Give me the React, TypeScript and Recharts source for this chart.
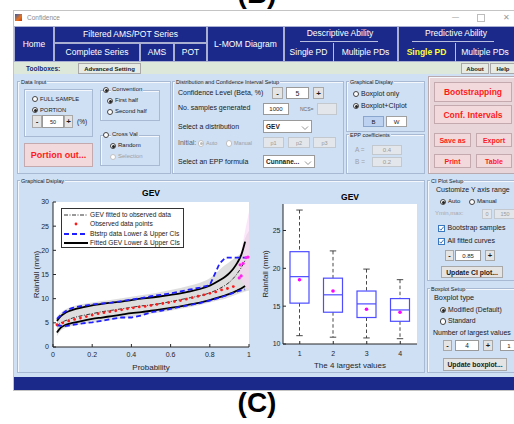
import React from 'react';
import { ComposedChart, Line, Area, Scatter, Bar, XAxis, YAxis, CartesianGrid, Label } from 'recharts';

const FONT = '"Liberation Sans", Arial, Helvetica, sans-serif';
const NAVY = '#1b2a8a';
const BG = '#cfdff4';
const INK = '#1a1a1a';
const AX = '#262626';

// ---- GEV quantile plot (left) ----
const prob = [0.02, 0.04, 0.06, 0.08, 0.1, 0.15, 0.2, 0.25, 0.3, 0.35, 0.4, 0.45, 0.5, 0.55, 0.6, 0.65, 0.7, 0.75, 0.8, 0.85, 0.88, 0.9, 0.92, 0.94, 0.96, 0.98, 1.0];
const gevFit = [4.3, 5.0, 5.4, 5.7, 6.0, 6.5, 6.9, 7.3, 7.6, 7.9, 8.2, 8.5, 8.7, 9.0, 9.4, 9.8, 10.2, 10.6, 11.2, 12.1, 12.8, 13.4, 14.2, 15.2, 16.4, 17.9, null];
const ciUpper = [5.4, 6.4, 7.0, 7.4, 7.7, 8.2, 8.6, 8.9, 9.2, 9.4, 9.7, 10.0, 10.2, 10.5, 10.8, 11.1, 11.5, 12.0, 12.7, 13.8, 14.6, 15.3, 16.2, 17.4, 19.0, 21.8, null];
const ciLower = [3.0, 4.0, 4.5, 4.8, 5.0, 5.4, 5.8, 6.1, 6.4, 6.7, 7.0, 7.2, 7.5, 7.8, 8.1, 8.4, 8.8, 9.2, 9.7, 10.3, 10.7, 11.0, 11.3, 11.7, 12.1, 12.6, null];
const bsUpper = [5.8, 6.6, 7.3, 7.8, 8.1, 8.5, 8.8, 9.0, 9.2, 9.5, 9.8, 10.1, 10.5, 10.8, 11.1, 11.5, 11.9, 12.3, 12.8, 17.3, 18.5, 18.5, 18.5, 18.5, 18.5, 18.5, null];
const bsLower = [4.5, 4.4, 4.3, 4.4, 4.6, 4.9, 5.1, 5.4, 5.8, 6.1, 6.1, 6.5, 7.2, 7.5, 7.9, 8.3, 8.7, 9.1, 9.6, 10.2, 10.6, 10.9, 11.2, 11.5, 11.7, 11.9, null];
const bandLow = [2.2, 3.4, 3.9, 4.2, 4.4, 4.7, 5.0, 5.3, 5.6, 5.9, 6.2, 6.5, 6.9, 7.2, 7.5, 7.9, 8.3, 8.7, 9.2, 9.7, 10.0, 10.3, 10.6, 10.9, 11.2, 11.5, 11.7];
const bandHigh = [6.3, 7.1, 7.7, 8.1, 8.4, 8.9, 9.2, 9.5, 9.8, 10.1, 10.4, 10.7, 11.0, 11.4, 11.8, 12.2, 12.7, 13.3, 14.2, 16.0, 17.0, 17.6, 18.2, 18.8, 19.6, 22.5, 24.0];
const pinkProb = [0.94, 0.96, 0.98, 1.0];
const pinkLow = [17.0, 14.0, 12.5, 12.0];
const pinkHigh = [17.5, 20.0, 24.0, 28.0];
const obsProb = [0.02, 0.05, 0.08, 0.11, 0.14, 0.17, 0.2, 0.23, 0.26, 0.29, 0.32, 0.35, 0.38, 0.41, 0.44, 0.47, 0.5, 0.53, 0.56, 0.59, 0.62, 0.65, 0.68, 0.71, 0.74, 0.77, 0.8, 0.83, 0.86, 0.89, 0.92];
const obsRain = [4.6, 5.0, 5.4, 5.7, 6.0, 6.3, 6.6, 6.9, 7.1, 7.3, 7.5, 7.7, 7.9, 8.1, 8.3, 8.4, 8.6, 8.8, 9.0, 9.2, 9.4, 9.6, 9.9, 10.2, 10.5, 10.8, 11.1, 11.4, 11.8, 12.1, 12.5];
const topProb = [0.95, 0.96, 0.955, 0.97, 0.985, 0.995];
const topRain = [14.3, 14.7, 17.0, 17.3, 18.5, 18.6];
const probTicks = [0, 0.2, 0.4, 0.6, 0.8, 1];
const rainTicks = [0, 5, 10, 15, 20, 25, 30];

// ---- Boxplot (right) ----
const boxLabels = ['1', '2', '3', '4'];
const whiskerLow = [11.1, 10.9, 10.8, 10.7];
const q1 = [15.4, 14.2, 13.5, 13.0];
const median = [18.9, 16.5, 15.3, 14.5];
const q3 = [22.2, 18.7, 17.0, 16.0];
const whiskerHigh = [27.7, 22.3, 19.9, 18.5];
const means = [18.5, 17.0, 14.6, 14.2];
const boxTicks = [10, 15, 20, 25];

const gevRows = prob.map((x, i) => ({
  x,
  fit: gevFit[i],
  ciHi: ciUpper[i],
  ciLo: ciLower[i],
  bsHi: bsUpper[i],
  bsLo: bsLower[i],
  band: [bandLow[i], bandHigh[i]],
}));
const pinkRows = pinkProb.map((x, i) => ({ x, pink: [pinkLow[i], pinkHigh[i]] }));
const obsPts = obsProb.map((x, i) => ({ x, y: obsRain[i] }));
const topPts = topProb.map((x, i) => ({ x, y: topRain[i] }));
const boxRows = boxLabels.map((k, i) => ({
  k,
  range: [whiskerLow[i], whiskerHigh[i]],
  q1: q1[i],
  med: median[i],
  q3: q3[i],
  mean: means[i],
}));

const dot = (fill: string, r: number) => (p: any) => <circle cx={p.cx} cy={p.cy} r={r} fill={fill} />;

function BoxShape(props: any) {
  const { x, y, width, height, payload } = props;
  const top = Math.min(y, y + height);
  const bot = Math.max(y, y + height);
  const [lo, hi] = payload.range;
  const py = (v: number) => bot - ((v - lo) / (hi - lo)) * (bot - top);
  const cx = x + width / 2;
  const cap = width * 0.17;
  return (
    <g>
      <line x1={cx} x2={cx} y1={py(hi)} y2={py(payload.q3)} stroke="#333" strokeWidth={0.9} strokeDasharray="3.5 2.5" />
      <line x1={cx} x2={cx} y1={py(payload.q1)} y2={py(lo)} stroke="#333" strokeWidth={0.9} strokeDasharray="3.5 2.5" />
      <line x1={cx - cap} x2={cx + cap} y1={py(hi)} y2={py(hi)} stroke="#333" strokeWidth={0.9} />
      <line x1={cx - cap} x2={cx + cap} y1={py(lo)} y2={py(lo)} stroke="#333" strokeWidth={0.9} />
      <rect x={x} y={py(payload.q3)} width={width} height={py(payload.q1) - py(payload.q3)} fill="none" stroke="#4d4dff" strokeWidth={1.2} />
      <line x1={x} x2={x + width} y1={py(payload.med)} y2={py(payload.med)} stroke="#4d4dff" strokeWidth={1.2} />
      <circle cx={cx} cy={py(payload.mean)} r={1.8} fill="#ff00ff" />
    </g>
  );
}

// ---- small GUI helpers ----
function Txt({ x, y, size = 7, color = INK, bold = false, align = 'left', w = 200, bg, children }: any) {
  const left = align === 'center' ? x - w / 2 : x;
  return (
    <div
      style={{
        position: 'absolute', left, top: y - size * 0.6, width: align === 'center' ? w : undefined,
        height: size * 1.2, lineHeight: `${size * 1.2}px`, fontSize: size, fontWeight: bold ? 700 : 400,
        color, whiteSpace: 'nowrap', textAlign: align, fontFamily: FONT, background: bg,
        padding: bg ? '0 1px' : undefined,
      }}
    >
      {children}
    </div>
  );
}

function Box({ x, y, w, h, bg, border = '#a7b9d3', style }: any) {
  return (
    <div style={{ position: 'absolute', left: x, top: y, width: w, height: h, boxSizing: 'border-box', border: `1px solid ${border}`, boxShadow: 'inset 1px 1px 0 #f4f8fd', background: bg, ...style }} />
  );
}

function Btn({ x, y, w, h, label, size = 7, bold = false, color = INK, bg = '#e4e4e4', border = '#a8a8a8' }: any) {
  return (
    <div
      style={{
        position: 'absolute', left: x, top: y, width: w, height: h, boxSizing: 'border-box',
        border: `1px solid ${border}`, background: bg, color, fontSize: size, fontWeight: bold ? 700 : 400,
        fontFamily: FONT, display: 'flex', alignItems: 'center', justifyContent: 'center', whiteSpace: 'nowrap',
      }}
    >
      {label}
    </div>
  );
}

function Field({ x, y, w, h, value, size = 6, disabled = false, bold = false, align = 'center', arrow = false }: any) {
  return (
    <div
      style={{
        position: 'absolute', left: x, top: y, width: w, height: h, boxSizing: 'border-box',
        border: `1px solid ${disabled ? '#c3c8cf' : '#9a9a9a'}`, background: disabled ? '#e3e6ea' : '#fff',
        color: disabled ? '#9a9a9a' : INK, fontSize: size, fontWeight: bold ? 700 : 400, fontFamily: FONT,
        display: 'flex', alignItems: 'center', justifyContent: align === 'center' ? 'center' : 'flex-start',
        paddingLeft: align === 'center' ? 0 : 2, whiteSpace: 'nowrap',
      }}
    >
      {value}
      {arrow && (
        <svg width={8} height={6} style={{ position: 'absolute', right: 2, top: h / 2 - 3 }}>
          <path d="M1 1.5 L4 4.5 L7 1.5" stroke="#888" fill="none" strokeWidth={0.9} />
        </svg>
      )}
    </div>
  );
}

function Radio({ cx, cy, checked = false, disabled = false, label, size = 6.5, bg }: any) {
  return (
    <>
      <div
        style={{
          position: 'absolute', left: cx - 3.2, top: cy - 3.2, width: 6.4, height: 6.4, boxSizing: 'border-box',
          borderRadius: '50%', border: `1px solid ${disabled ? '#c0c0c0' : '#444'}`, background: '#fff',
        }}
      />
      {checked && (
        <div style={{ position: 'absolute', left: cx - 1.5, top: cy - 1.5, width: 3, height: 3, borderRadius: '50%', background: disabled ? '#bbb' : '#222' }} />
      )}
      <Txt x={cx + 5} y={cy} size={size} color={disabled ? '#a0a0a0' : INK} bg={bg}>{label}</Txt>
    </>
  );
}

function Check({ cx, cy, label, size = 7 }: any) {
  return (
    <>
      <div style={{ position: 'absolute', left: cx - 3.5, top: cy - 3.5, width: 7, height: 7, boxSizing: 'border-box', border: '1px solid #3a78c0', background: '#fff' }} />
      <svg width={7} height={7} style={{ position: 'absolute', left: cx - 3.5, top: cy - 3.5 }}>
        <path d="M1.3 3.6 L2.9 5.2 L5.8 1.6" stroke="#2a5fa8" fill="none" strokeWidth={0.9} />
      </svg>
      <Txt x={cx + 6} y={cy} size={size}>{label}</Txt>
    </>
  );
}

function Panel({ x, y, w, h, title, bg }: any) {
  return (
    <>
      <Box x={x} y={y} w={w} h={h} bg={bg} />
      <Txt x={x + 3} y={y + 1} size={5.5} color="#222" bg={bg || BG}>{title}</Txt>
    </>
  );
}

function NavCell({ x, y, w, h }: any) {
  return <div style={{ position: 'absolute', left: x, top: y, width: w, height: h, boxSizing: 'border-box', background: NAVY, border: '1px solid #a9b0d2' }} />;
}

function LegendRow({ y, kind, label }: any) {
  return (
    <>
      <svg width={26} height={6} style={{ position: 'absolute', left: 63, top: y - 3 }}>
        {kind === 'fit' && <line x1={1} x2={25} y1={3} y2={3} stroke="#333" strokeWidth={1} strokeDasharray="4 1.5 1 1.5" />}
        {kind === 'obs' && <circle cx={13} cy={3} r={1.4} fill="#ff1a1a" />}
        {kind === 'bs' && <line x1={1} x2={25} y1={3} y2={3} stroke="#1f1fff" strokeWidth={2} strokeDasharray="5 3" />}
        {kind === 'ci' && <line x1={1} x2={25} y1={3} y2={3} stroke="#000" strokeWidth={2} />}
      </svg>
      <Txt x={90} y={y} size={6.6} color="#222">{label}</Txt>
    </>
  );
}

function GevChart() {
  return (
    <ComposedChart width={260} height={190} data={gevRows} margin={{ top: 17, right: 11, bottom: 0, left: 23 }}>
      <CartesianGrid fill="#fff" horizontal={false} vertical={false} />
      <XAxis dataKey="x" type="number" domain={[0, 1]} ticks={probTicks} height={28} tickSize={-3} tickMargin={8.5} stroke={AX} tick={{ fontSize: 7, fill: AX }} fontFamily={FONT}>
        <Label value="Probability" position="insideBottom" offset={5} style={{ fontSize: 8, fill: AX, fontFamily: FONT }} />
      </XAxis>
      <XAxis xAxisId="top" orientation="top" dataKey="x" type="number" domain={[0, 1]} height={0} tick={false} tickLine={false} stroke={AX} />
      <YAxis domain={[0, 30]} ticks={rainTicks} width={30} tickSize={-3} tickMargin={7} stroke={AX} tick={{ fontSize: 7, fill: AX }} fontFamily={FONT}>
        <Label value="Rainfall (mm)" position="insideLeft" angle={-90} offset={13} style={{ fontSize: 8, fill: AX, textAnchor: 'middle', fontFamily: FONT }} />
      </YAxis>
      <YAxis yAxisId="r" orientation="right" domain={[0, 30]} width={0} tick={false} tickLine={false} stroke={AX} />
      <Area dataKey="band" type="monotone" fill="#d6d6d6" fillOpacity={0.8} stroke="none" isAnimationActive={false} />
      <Area data={pinkRows} dataKey="pink" type="monotone" fill="#f9d2f6" fillOpacity={0.55} stroke="none" isAnimationActive={false} />
      <Line dataKey="ciHi" type="monotone" stroke="#000" strokeWidth={1.8} dot={false} isAnimationActive={false} />
      <Line dataKey="ciLo" type="monotone" stroke="#000" strokeWidth={1.8} dot={false} isAnimationActive={false} />
      <Line dataKey="fit" type="monotone" stroke="#333" strokeWidth={1} strokeDasharray="4 1.5 1 1.5" dot={false} isAnimationActive={false} />
      <Line dataKey="bsHi" type="linear" stroke="#1f1fff" strokeWidth={1.8} strokeDasharray="5 3" dot={false} isAnimationActive={false} />
      <Line dataKey="bsLo" type="linear" stroke="#1f1fff" strokeWidth={1.8} strokeDasharray="5 3" dot={false} isAnimationActive={false} />
      <Scatter data={obsPts} dataKey="y" shape={dot('#ff1a1a', 1.4)} isAnimationActive={false} />
      <Scatter data={topPts} dataKey="y" shape={dot('#ff22ee', 1.6)} isAnimationActive={false} />
    </ComposedChart>
  );
}

function BoxChart() {
  return (
    <ComposedChart width={170} height={190} data={boxRows} margin={{ top: 19, right: 8, bottom: 0, left: 8 }}>
      <CartesianGrid fill="#fff" horizontal={false} vertical={false} />
      <XAxis dataKey="k" height={31} tickSize={-3} tickMargin={10} stroke={AX} tick={{ fontSize: 7, fill: AX }} fontFamily={FONT}>
        <Label value="The 4 largest values" position="insideBottom" offset={7} style={{ fontSize: 8, fill: AX, fontFamily: FONT }} />
      </XAxis>
      <XAxis xAxisId="top" orientation="top" dataKey="k" height={0} tick={false} tickLine={false} stroke={AX} />
      <YAxis domain={[10, 28.5]} ticks={boxTicks} width={20} tickSize={-3} tickMargin={5.5} stroke={AX} tick={{ fontSize: 7, fill: AX }} fontFamily={FONT} allowDataOverflow>
        <Label value="Rainfall (mm)" position="insideLeft" angle={-90} offset={2} style={{ fontSize: 8, fill: AX, textAnchor: 'middle', fontFamily: FONT }} />
      </YAxis>
      <YAxis yAxisId="r" orientation="right" domain={[10, 28.5]} width={0} tick={false} tickLine={false} stroke={AX} />
      <Bar dataKey="range" barSize={19} shape={BoxShape} isAnimationActive={false} />
    </ComposedChart>
  );
}

export default function App() {
  return (
    <div style={{ position: 'absolute', left: 0, top: 0, width: 514, height: 424, overflow: 'hidden', background: '#fff', fontFamily: FONT }}>
      <Txt x={257} y={-6.6} size={28} bold align="center" w={80} color="#000">(B)</Txt>

      {/* window frame + title bar */}
      <div style={{ position: 'absolute', left: 13, top: 10, width: 510, height: 381, boxSizing: 'border-box', border: '1px solid #c4c4c4', background: '#fff' }} />
      <div style={{ position: 'absolute', left: 15, top: 14, width: 7, height: 7, background: 'linear-gradient(135deg,#2b5fb8 0%,#e8731e 60%,#c23a10 100%)' }} />
      <Txt x={27} y={17.5} size={6.5} color="#8a8a8a">Confidence</Txt>
      <Txt x={452} y={17} size={7} color="#9a9a9a">—</Txt>
      <div style={{ position: 'absolute', left: 477, top: 14, width: 6, height: 6, border: '1px solid #bdbdbd' }} />
      <Txt x={503} y={17.5} size={8} color="#9a9a9a">✕</Txt>

      {/* navigation bar */}
      <div style={{ position: 'absolute', left: 14, top: 26, width: 500, height: 36, background: NAVY }} />
      <NavCell x={14} y={26} w={40} h={36} />
      <NavCell x={54} y={26} w={153} h={17} />
      <NavCell x={54} y={43} w={86} h={19} />
      <NavCell x={140} y={43} w={34} h={19} />
      <NavCell x={174} y={43} w={33} h={19} />
      <NavCell x={207} y={26} w={77} h={36} />
      <NavCell x={284} y={26} w={114} h={36} />
      <NavCell x={398} y={26} w={118} h={36} />
      <div style={{ position: 'absolute', left: 300, top: 41, width: 78, height: 1, background: '#b9bfe0' }} />
      <div style={{ position: 'absolute', left: 412, top: 41, width: 82, height: 1, background: '#b9bfe0' }} />
      <div style={{ position: 'absolute', left: 333, top: 43, width: 1, height: 19, background: '#b9bfe0' }} />
      <div style={{ position: 'absolute', left: 455, top: 43, width: 1, height: 19, background: '#b9bfe0' }} />
      <Txt x={34} y={44} size={8.5} color="#fff" align="center" w={40}>Home</Txt>
      <Txt x={130.5} y={34.5} size={8.5} color="#fff" align="center" w={150}>Filtered AMS/POT Series</Txt>
      <Txt x={97} y={52.5} size={8.5} color="#fff" align="center" w={86}>Complete Series</Txt>
      <Txt x={157} y={52.5} size={8.5} color="#fff" align="center" w={34}>AMS</Txt>
      <Txt x={190.5} y={52.5} size={8.5} color="#fff" align="center" w={33}>POT</Txt>
      <Txt x={245.5} y={44} size={8.5} color="#fff" align="center" w={77}>L-MOM Diagram</Txt>
      <Txt x={340} y={33.5} size={8.5} color="#fff" align="center" w={110}>Descriptive Ability</Txt>
      <Txt x={308.5} y={52.5} size={8.5} color="#fff" align="center" w={50}>Single PD</Txt>
      <Txt x={365.5} y={52.5} size={8.5} color="#fff" align="center" w={64}>Multiple PDs</Txt>
      <Txt x={456} y={33.5} size={8.5} color="#fff" align="center" w={110}>Predictive Ability</Txt>
      <Txt x={426.5} y={52.5} size={8.5} color="#ffff33" bold align="center" w={57}>Single PD</Txt>
      <Txt x={485} y={52.5} size={8.5} color="#fff" align="center" w={60}>Multiple PDs</Txt>

      {/* toolbox strip */}
      <div style={{ position: 'absolute', left: 14, top: 62, width: 500, height: 12, background: '#dde8db' }} />
      <Txt x={26} y={68.5} size={6.5} bold color="#1a2a6c">Toolboxes:</Txt>
      <Btn x={78} y={63} w={63} h={11} label="Advanced Setting" size={6} bold bg="#e6ebe4" />
      <Btn x={461} y={63} w={28} h={11} label="About" size={6} bold bg="#e6ebe4" />
      <Btn x={490} y={63} w={26} h={11} label="Help" size={6} bold bg="#e6ebe4" />

      {/* main area */}
      <div style={{ position: 'absolute', left: 14, top: 74, width: 500, height: 303, background: BG }} />
      <div style={{ position: 'absolute', left: 14, top: 377, width: 500, height: 13, background: NAVY }} />

      {/* Data input */}
      <Panel x={17} y={81} w={154} h={93} title="Data Input" />
      <Box x={24} y={89} w={69} h={48} />
      <Radio cx={35} cy={99} label="FULL SAMPLE" size={5.8} />
      <Radio cx={35} cy={110} checked label="PORTION" size={5.8} />
      <Btn x={32} y={115} w={10} h={13} label="-" size={8} bold />
      <Field x={42} y={115} w={22} h={13} value="50" size={5.5} />
      <Btn x={64} y={115} w={9} h={13} label="+" size={8} bold />
      <Txt x={77} y={122} size={6.5}>(%)</Txt>
      <Box x={100} y={90} w={60} h={31} />
      <Radio cx={106} cy={90} checked label="Convention" size={6} bg={BG} />
      <Radio cx={110} cy={101} checked label="First half" size={6} />
      <Radio cx={110} cy={112} label="Second half" size={6} />
      <Box x={100} y={135} w={60} h={31} />
      <Radio cx={106} cy={135} label="Cross Val" size={6} bg={BG} />
      <Radio cx={113} cy={146} checked label="Random" size={6} />
      <Radio cx={113} cy={157} disabled label="Selection" size={6} />
      <Btn x={24} y={143} w={69} h={24} label="Portion out..." size={9} bold color="#ff1a1a" bg="#f2d9dc" border="#c4aaae" />

      {/* distribution panel */}
      <Panel x={172} y={81} w={172} h={93} title="Distribution and Confidence Interval Setup" />
      <Txt x={178} y={93.5} size={7}>Confidence Level (Beta, %)</Txt>
      <Btn x={272} y={87} w={11} h={12} label="-" size={8} bold />
      <Field x={286} y={87} w={23} h={12} value="5" size={7} />
      <Btn x={313} y={87} w={11} h={12} label="+" size={8} bold />
      <Txt x={178} y={108.5} size={7}>No. samples generated</Txt>
      <Field x={263} y={103} w={26} h={12} value="1000" size={6} />
      <Txt x={300} y={109} size={5} color="#666">NCS=</Txt>
      <Field x={317} y={103} w={20} h={12} value="" disabled />
      <Txt x={178} y={127} size={7}>Select a distribution</Txt>
      <Field x={263} y={120} w={49} h={13} value="GEV" size={6.5} bold align="left" arrow />
      <Txt x={178} y={143.5} size={7} color="#666">Initial:</Txt>
      <Radio cx={201} cy={143.5} checked disabled label="Auto" size={5.5} />
      <Radio cx={229} cy={143.5} disabled label="Manual" size={5.5} />
      <Field x={263} y={137} w={21} h={11} value="p1" size={5.5} disabled />
      <Field x={288} y={137} w={22} h={11} value="p2" size={5.5} disabled />
      <Field x={313} y={137} w={23} h={11} value="p3" size={5.5} disabled />
      <Txt x={178} y={162} size={7}>Select an EPP formula</Txt>
      <Field x={263} y={155} w={52} h={13} value="Cunnane..." size={6.5} bold align="left" arrow />

      {/* graphical display (small) */}
      <Panel x={346} y={81} w={79} h={51} title="Graphical Display" />
      <Radio cx={356} cy={94} label="Boxplot only" size={7} />
      <Radio cx={356} cy={106} checked label="Boxplot+CIplot" size={7} />
      <Btn x={363} y={116} w={21} h={11} label="B" size={6} bg="#bcd2f0" border="#8aa6cc" />
      <Btn x={386} y={116} w={21} h={11} label="W" size={6} bg="#fff" border="#a0a0a0" />
      <Panel x={346} y={134} w={79} h={40} title="EPP coefficients" />
      <Txt x={355} y={150} size={6.5} color="#a0a0a0">A =</Txt>
      <Field x={372} y={145} w={30} h={10} value="0.4" size={6} disabled />
      <Txt x={355} y={162} size={6.5} color="#a0a0a0">B =</Txt>
      <Field x={372} y={157} w={30} h={10} value="0.2" size={6} disabled />

      {/* action buttons */}
      <Box x={428} y={76} w={90} h={98} bg="#e8d5da" border="#b9aab0" />
      <Btn x={434} y={82} w={78} h={20} label="Bootstrapping" size={8.5} bold color="#ff1a1a" bg="#f2d9dc" border="#c4aaae" />
      <Btn x={434} y={105} w={78} h={19} label="Conf. Intervals" size={8.5} bold color="#ff1a1a" bg="#f2d9dc" border="#c4aaae" />
      <Btn x={434} y={133} w={37} h={14} label="Save as" size={7} bold color="#ff1a1a" bg="#f2d9dc" border="#c4aaae" />
      <Btn x={476} y={133} w={36} h={14} label="Export" size={7} bold color="#ff1a1a" bg="#f2d9dc" border="#c4aaae" />
      <Btn x={434} y={154} w={37} h={14} label="Print" size={7} bold color="#ff1a1a" bg="#f2d9dc" border="#c4aaae" />
      <Btn x={476} y={154} w={36} h={14} label="Table" size={7} bold color="#ff1a1a" bg="#f2d9dc" border="#c4aaae" />

      {/* graphical display (charts) */}
      <Panel x={17} y={180} w={408} h={193} title="Graphical Dsiplay" />
      <div style={{ position: 'absolute', left: 0, top: 185 }}>
        <GevChart />
      </div>
      <Txt x={151} y={193.5} size={8.5} bold align="center" w={60} color="#000">GEV</Txt>
      <div style={{ position: 'absolute', left: 61, top: 208, width: 123, height: 40, boxSizing: 'border-box', background: '#fff', border: '0.8px solid #333' }} />
      <LegendRow y={215} kind="fit" label="GEV fitted to observed data" />
      <LegendRow y={224} kind="obs" label="Observed data points" />
      <LegendRow y={233.5} kind="bs" label="Btstrp data Lower & Upper CIs" />
      <LegendRow y={242.5} kind="ci" label="Fitted GEV Lower & Upper CIs" />

      <div style={{ position: 'absolute', left: 255, top: 185 }}>
        <BoxChart />
      </div>
      <Txt x={350} y={197} size={8.5} bold align="center" w={60} color="#000">GEV</Txt>

      {/* CI plot setup */}
      <Panel x={427} y={180} w={92} h={101} title="CI Plot Setup" />
      <Txt x={436} y={190.5} size={7}>Customize Y axis range</Txt>
      <Radio cx={443} cy={202} checked label="Auto" size={6} />
      <Radio cx={472} cy={202} label="Manual" size={6} />
      <Txt x={435} y={214} size={6} color="#a8a8a8">Ymin,max:</Txt>
      <Field x={482} y={209} w={10} h={10} value="0" size={5.5} disabled />
      <Field x={494} y={209} w={22} h={10} value="150" size={5.5} disabled />
      <Check cx={441.5} cy={228.5} label="Bootstrap samples" />
      <Check cx={441.5} cy={241} label="All fitted curves" />
      <Btn x={445} y={250} w={9} h={11} label="-" size={7.5} bold />
      <Field x={455} y={250} w={26} h={11} value="0.85" size={6} />
      <Btn x={485} y={250} w={10} h={11} label="+" size={7.5} bold />
      <Btn x={441} y={266} w={62} h={12} label="Update CI plot..." size={6.8} bold />

      {/* Boxplot setup */}
      <Panel x={427} y={288} w={92} h={85} title="Boxplot Setup" />
      <Txt x={434} y={298.5} size={7.3}>Boxplot type</Txt>
      <Radio cx={443} cy={310} checked label="Modified (Default)" size={6.8} />
      <Radio cx={443} cy={321.5} label="Standard" size={6.8} />
      <Txt x={433} y={333} size={7}>Number of largest values</Txt>
      <Btn x={443} y={340} w={9} h={11} label="-" size={7.5} bold />
      <Field x={455} y={340} w={24} h={11} value="4" size={6.5} />
      <Btn x={483} y={340} w={10} h={11} label="+" size={7.5} bold />
      <Field x={500} y={340} w={18} h={11} value="1" size={6} />
      <Btn x={443} y={358} w={64} h={13} label="Update boxplot..." size={6.8} bold />

      <Txt x={257} y={403} size={28} bold align="center" w={80} color="#000">(C)</Txt>
    </div>
  );
}
